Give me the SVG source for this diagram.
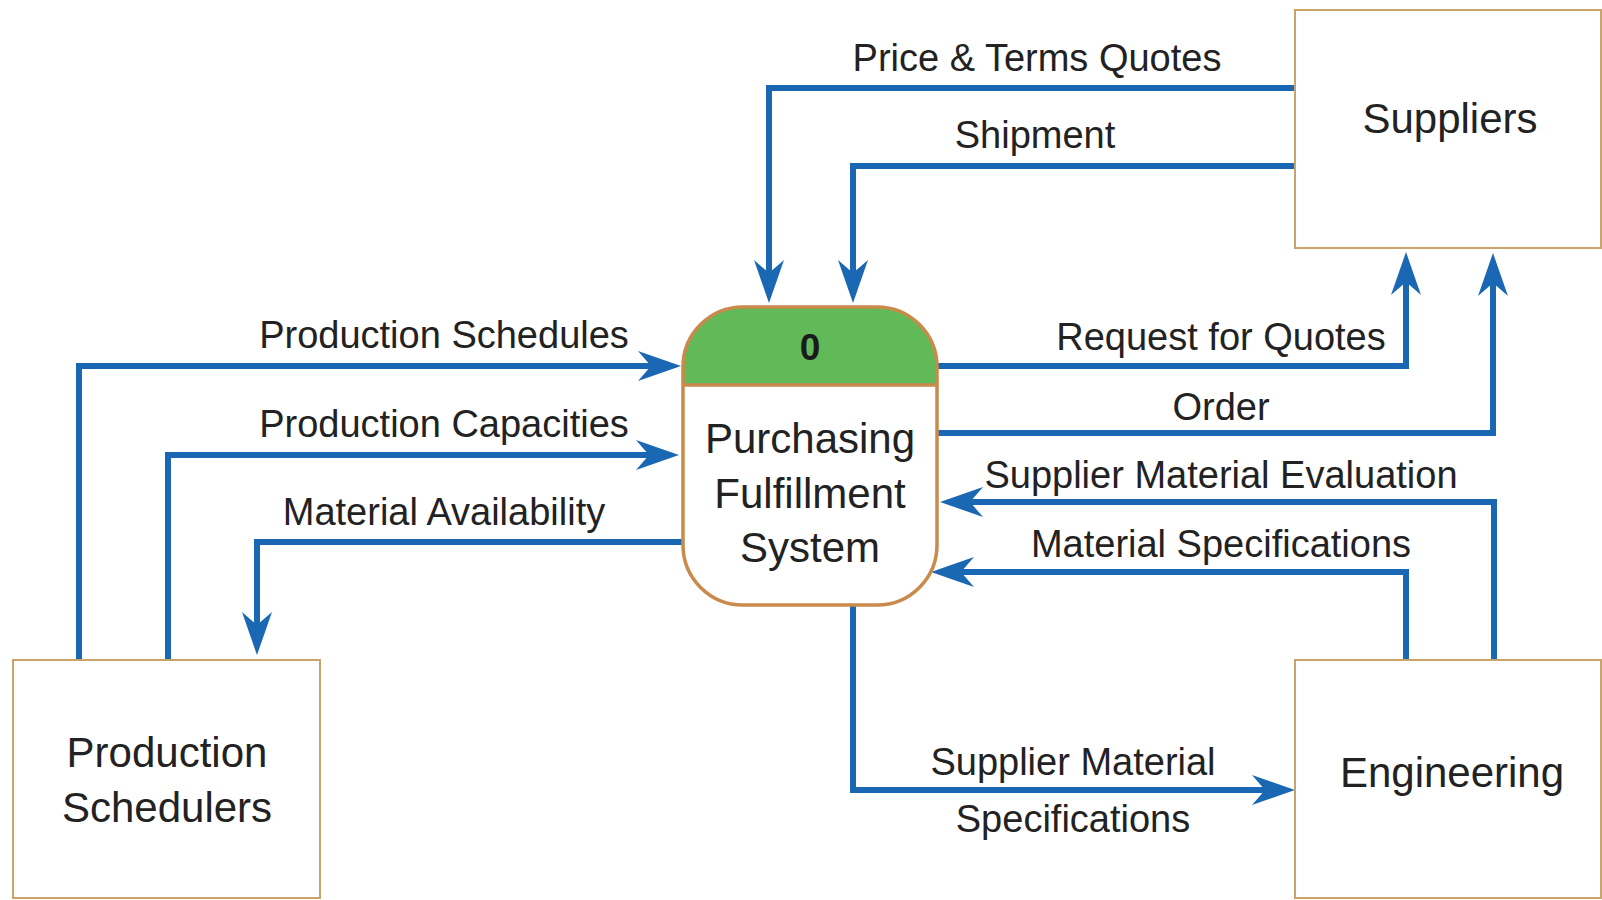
<svg xmlns="http://www.w3.org/2000/svg" width="1602" height="900" viewBox="0 0 1602 900">
<defs>
<style>
.box{fill:#fff;stroke:#c9a46a;stroke-width:2}
.flow{fill:none;stroke:#1a68b3;stroke-width:6;marker-end:url(#arr)}
.lbl{font-family:"Liberation Sans",Arial,sans-serif;font-size:38px;fill:#222;text-anchor:middle}
.node{font-family:"Liberation Sans",Arial,sans-serif;font-size:42px;fill:#222;text-anchor:middle}
</style>
<marker id="arr" markerUnits="userSpaceOnUse" markerWidth="60" markerHeight="40" refX="0" refY="0" orient="auto" style="overflow:visible">
<path d="M30,0 L-13,-15 L0,0 L-13,15 Z" fill="#1a68b3"/>
</marker>
</defs>
<rect width="1602" height="900" fill="#fff"/>

<g id="connectors">
<path class="flow" d="M1295,88 H769 V273"/>
<path class="flow" d="M1295,166 H853 V273"/>
<path class="flow" d="M937,366 H1406 V282"/>
<path class="flow" d="M937,433 H1493 V283"/>
<path class="flow" d="M1494,660 V502 H970"/>
<path class="flow" d="M1406,660 V572 H961"/>
<path class="flow" d="M853,605 V790 H1265"/>
<path class="flow" d="M79,660 V366 H651"/>
<path class="flow" d="M168,660 V455 H649"/>
<path class="flow" d="M683,542 H257 V625"/>
<text class="lbl" x="1037" y="71">Price &amp; Terms Quotes</text>
<text class="lbl" x="1035" y="148">Shipment</text>
<text class="lbl" x="1221" y="350">Request for Quotes</text>
<text class="lbl" x="1221" y="420">Order</text>
<text class="lbl" x="1221" y="488">Supplier Material Evaluation</text>
<text class="lbl" x="1221" y="557">Material Specifications</text>
<text class="lbl" x="1073" y="775">Supplier Material</text>
<text class="lbl" x="1073" y="832">Specifications</text>
<text class="lbl" x="444" y="348">Production Schedules</text>
<text class="lbl" x="444" y="437">Production Capacities</text>
<text class="lbl" x="444" y="525">Material Availability</text>
</g>

<g id="process-0">
<rect x="683" y="307" width="254" height="298" rx="60" ry="60" fill="#fff"/>
<path d="M683,385 V367 A60,60 0 0 1 743,307 H877 A60,60 0 0 1 937,367 V385 Z" fill="#62b957"/>
<line x1="683" y1="385" x2="937" y2="385" stroke="#c98a4b" stroke-width="3.5"/>
<rect x="683" y="307" width="254" height="298" rx="60" ry="60" fill="none" stroke="#c98a4b" stroke-width="3.5"/>
<text x="810" y="360" font-family="'Liberation Sans',Arial,sans-serif" font-size="37" font-weight="bold" fill="#1a1a1a" text-anchor="middle">0</text>
<text class="node" x="810" y="453">Purchasing</text>
<text class="node" x="810" y="508">Fulfillment</text>
<text class="node" x="810" y="562">System</text>
</g>

<g id="suppliers">
<rect class="box" x="1295" y="10" width="306" height="238"/>
<text class="node" x="1450" y="133">Suppliers</text>
</g>

<g id="production-schedulers">
<rect class="box" x="13" y="660" width="307" height="238"/>
<text class="node" x="167" y="767">Production</text>
<text class="node" x="167" y="822">Schedulers</text>
</g>

<g id="engineering">
<rect class="box" x="1295" y="660" width="306" height="238"/>
<text class="node" x="1452" y="787">Engineering</text>
</g>
</svg>
